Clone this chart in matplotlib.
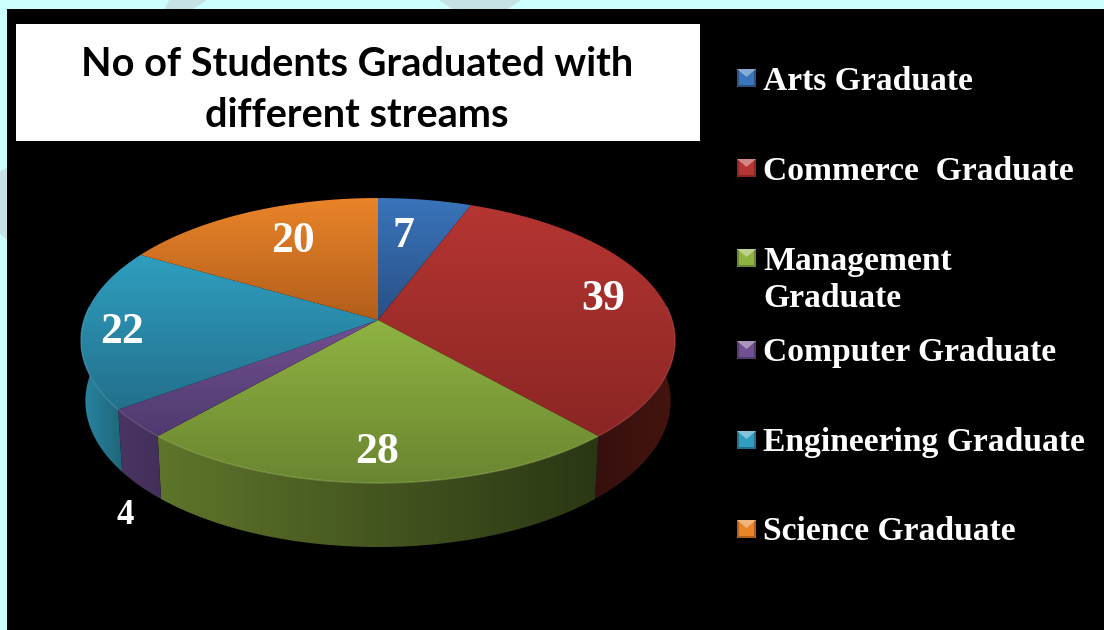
import matplotlib
matplotlib.use('Agg')
import matplotlib.pyplot as plt
import numpy as np
from matplotlib.colors import LinearSegmentedColormap, to_rgb
from matplotlib.patches import Polygon, Rectangle

title = 'No of Students Graduated with\ndifferent streams'
streams = ['Arts Graduate', 'Commerce  Graduate', 'Management\nGraduate',
           'Computer Graduate', 'Engineering Graduate', 'Science Graduate']
students = [7, 39, 28, 4, 22, 20]

# top face gradient (upper, lower), side gradient (left, right)
top_cols = [('#3A74BB', '#285084'), ('#B53532', '#8A2624'), ('#8FB342', '#6A8530'),
            ('#72508F', '#4F3A70'), ('#2F9EC0', '#23708C'), ('#EA8429', '#B15E1B')]
side_cols = [('#1B3558', '#1B3558'), ('#36100E', '#45140F'), ('#5E752B', '#2A3714'),
             ('#4A3562', '#43305A'), ('#2A86A2', '#1F6579'), ('#6E3A10', '#6E3A10')]
legend_ys = [81, 171, 280, 353, 443, 532]
marker_ys = [78, 168, 258, 350, 440, 529]
label_pos = [(403, 236), (603, 299), (377, 452), (125, 515), (122, 332), (293, 241)]
label_sizes = [31.5, 31.5, 31.5, 25, 31.5, 31.5]

CX, CY, RX, RY, P = 378, 320, 294, 139.5, 0.1438


def top_xy(th):
    d = 1 + P * np.cos(th)
    return CX + RX * np.sin(th) / d, CY - RY * np.cos(th) / d


def base_xy(th):
    d = 1 + P * np.cos(th)
    return CX + 0.985 * RX * np.sin(th) / d, 380 - 143 * np.cos(th) / d


def lighten(col, amt):
    return tuple(c + (1 - c) * amt for c in to_rgb(col))


def fill_grad(ax, pts, cols, vertical=True, box=None):
    cmap = LinearSegmentedColormap.from_list('g', cols)
    grad = np.linspace(0, 1, 256)
    grad = grad.reshape(-1, 1) if vertical else grad.reshape(1, -1)
    xs, ys = pts[:, 0], pts[:, 1]
    if box is None:
        box = (xs.min(), xs.max(), ys.max(), ys.min())
    im = ax.imshow(grad, cmap=cmap, extent=box, aspect='auto', interpolation='bilinear', zorder=3)
    im.set_clip_path(Polygon(pts, closed=True, transform=ax.transData))


fig = plt.figure(figsize=(11.04, 6.30), dpi=100, facecolor='#CCFFFF')
ax = fig.add_axes([0, 0, 1, 1])
ax.axis('off')

# watermark bits showing around the black panel
ax.add_patch(Polygon([(170, 0), (206, 0), (190, 10), (165, 10)], color='#C6E2E2', zorder=1))
ax.add_patch(Polygon([(0, 172), (8, 168), (8, 240), (0, 233)], color='#C6E2E2', zorder=1))
ax.add_patch(Polygon([(440, 0), (520, 0), (505, 10), (455, 10)], color='#C6E2E2', zorder=1))
ax.add_patch(Rectangle((7, 9), 1097, 621, color='black', lw=0, zorder=2))
ax.add_patch(Rectangle((16, 24), 684, 117, color='white', lw=0, zorder=2))

ax.text(357, 90, title, ha='center', va='center', fontsize=28.5, fontweight='bold',
        family='Lato', color='black', linespacing=1.49, zorder=6)

edges = np.cumsum([0] + students) / sum(students) * 2 * np.pi

# sides first, the top faces cover whatever is at the back
for i in range(len(students)):
    th = np.linspace(edges[i], edges[i + 1], 120)
    tx, ty = top_xy(th)
    bx, by = base_xy(th)
    pts = np.column_stack([np.r_[tx, bx[::-1]], np.r_[ty, by[::-1]]])
    vis = np.cos(th) < 0.2
    if vis.sum() < 2:
        continue
    box = (min(tx[vis].min(), bx[vis].min()), max(tx[vis].max(), bx[vis].max()), 560, 190)
    fill_grad(ax, pts, side_cols[i], vertical=False, box=box)

for i in range(len(students)):
    th = np.linspace(edges[i], edges[i + 1], 160)
    tx, ty = top_xy(th)
    pts = np.column_stack([np.r_[CX, tx], np.r_[CY, ty]])
    fill_grad(ax, pts, top_cols[i])
    # soft rim, only on the front edge
    front = np.cos(th) < 0.1
    ax.plot(tx[front], ty[front], color=lighten(top_cols[i][0], 0.2), lw=1.0, alpha=0.45,
            zorder=4, solid_capstyle='butt')

for i, name in enumerate(streams):
    y = marker_ys[i]
    x0, x1, y0, y1 = 737, 756, y - 9, y + 9
    xm = (x0 + x1) / 2
    ax.add_patch(Rectangle((x0, y0), x1 - x0, y1 - y0, color=top_cols[i][1], lw=0, zorder=5))
    ax.add_patch(Polygon([(x0 + 2, y0 + 2), (x1 - 2, y0 + 2), (x1 - 2, y1 - 2), (x0 + 2, y1 - 2)],
                         color=top_cols[i][0], lw=0, zorder=6))
    ax.add_patch(Polygon([(x0, y0), (x1, y0), (xm, y0 + 8)],
                         color=lighten(top_cols[i][0], 0.4), lw=0, zorder=7))
    ax.text(763, legend_ys[i], name, ha='left', va='center', fontsize=24.2, fontweight='bold',
            family='Liberation Serif', color='white', linespacing=1.256, zorder=6)

for val, (x, y), s in zip(students, label_pos, label_sizes):
    ax.text(x, y, str(val), ha='center', va='center', fontsize=s, fontweight='bold',
            family='Liberation Serif', color='white', zorder=8)

ax.set_xlim(0, 1104)
ax.set_ylim(630, 0)
fig.savefig('out.png', dpi=100, facecolor=fig.get_facecolor())
